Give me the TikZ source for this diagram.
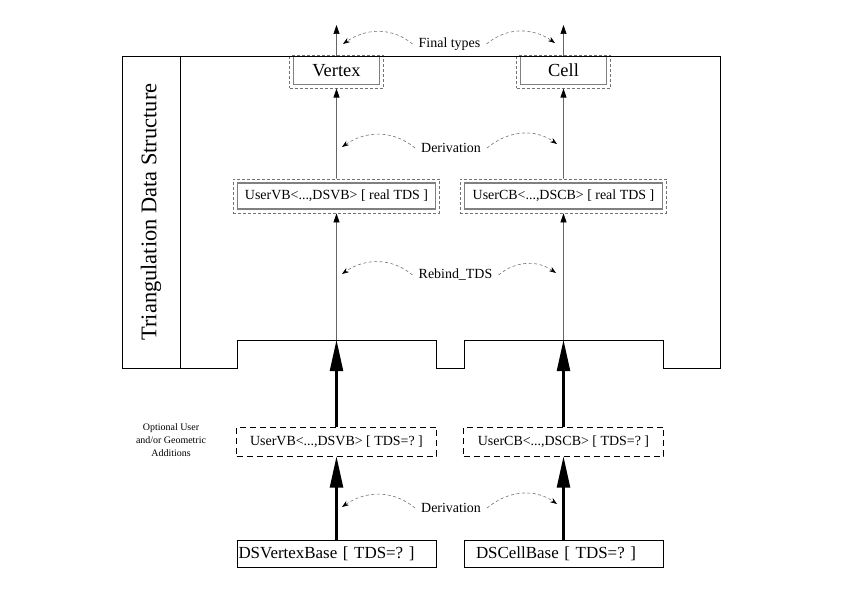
\documentclass[tikz,border=0pt]{standalone}
\usepackage{fontspec}
\setmainfont{Liberation Serif}
\usetikzlibrary{arrows.meta,fit}
\frenchspacing
\begin{document}
\begin{tikzpicture}[x=1bp,y=-1bp,
  outline/.style={line width=1bp},
  finalbox/.style={draw=black!50, line width=1.6bp, minimum width=86bp, minimum height=28bp,
    inner sep=0pt, font=\fontsize{18.5}{20}\selectfont},
  realbox/.style={draw=black!50, line width=1.2bp, minimum width=198bp, minimum height=26bp,
    inner sep=0pt, font=\fontsize{14}{16}\selectfont},
  halo/.style={draw=black!55, dash pattern=on 3bp off 2bp, line width=0.6bp, inner sep=0pt},
  userbox/.style={draw, dash pattern=on 6bp off 4bp, line width=1bp, minimum width=200bp,
    minimum height=29bp, inner sep=0pt, font=\fontsize{14}{16}\selectfont},
  basebox/.style={draw, line width=0.9bp, minimum height=27bp, inner ysep=0pt, align=left,
    font=\fontsize{17}{19}\selectfont},
  bigarrow/.style={line width=2.2bp, -{Triangle[length=31bp,width=13bp]}},
  slimarrow/.style={draw=black!60, line width=0.7bp, -{Triangle[length=9bp,width=6bp,color=black]}},
  bendarrow/.style={draw=black!55, dash pattern=on 3bp off 2.5bp, line width=0.6bp,
    -{Stealth[length=7bp,width=5bp,color=black]}},
  tag/.style={font=\fontsize{14}{16}\selectfont, inner ysep=0pt, inner xsep=6bp},
]
\useasboundingbox (0,0) rectangle (842,595);

% final types
\node[finalbox] (vtx) at (336.5,70.5) {Vertex};
\node[finalbox] (cell) at (563.5,70.5) {Cell};
\node[halo, fit={([shift={(-3,3)}]vtx.south west) ([xshift=3bp]vtx.north east)}] (vtxo) {};
\node[halo, fit={([shift={(-3,3)}]cell.south west) ([xshift=3bp]cell.north east)}] (cello) {};

% rebound user bases
\node[realbox] (vreal) at (336.5,196) {UserVB<...,DSVB> [ real TDS ]};
\node[realbox] (creal) at (563.5,196) {UserCB<...,DSCB> [ real TDS ]};
\node[halo, inner sep=3.5bp, fit=(vreal)] (vrealo) {};
\node[halo, inner sep=3.5bp, fit=(creal)] (crealo) {};

% data structure frame
\draw[outline] (122,57) -- (720,57) -- (720,368) -- (663,368) -- (663,340) -- (464,340)
  -- (464,368) -- (436,368) -- (436,340) -- (237,340) -- (237,368) -- (122,368) -- cycle;
\draw[outline] (180,57) -- (180,368);
\node[rotate=90, font=\fontsize{22.5}{24}\selectfont] (tds) at (151,212) {Triangulation Data Structure};

\coordinate (vjoin) at (336.5,340);
\coordinate (cjoin) at (563.5,340);
\coordinate (vtop) at (336.5,25);
\coordinate (ctop) at (563.5,25);

% user additions and base classes
\node[userbox] (vuser) at (336.5,441.5) {UserVB<...,DSVB> [ TDS=? ]};
\node[userbox] (cuser) at (563.5,441.5) {UserCB<...,DSCB> [ TDS=? ]};
\node[font=\fontsize{10}{13}\selectfont, align=center] (opt) at (171,440)
  {Optional User\\and/or Geometric\\Additions};

\node[basebox, inner xsep=1.5bp, text width=196bp] (vbase) at (336.5,553.5) {DSVertexBase [ TDS=? ]};
\node[basebox, inner xsep=12bp, text width=175bp] (cbase) at (563.5,553.5) {DSCellBase [ TDS=? ]};

% inheritance chain
\draw[bigarrow] (vbase) -- (vuser);
\draw[bigarrow] (cbase) -- (cuser);
\draw[bigarrow] (vuser) -- (vjoin);
\draw[bigarrow] (cuser) -- (cjoin);
\draw[slimarrow] (vjoin) -- (vrealo);
\draw[slimarrow] (cjoin) -- (crealo);
\draw[slimarrow] (vrealo) -- (vtxo);
\draw[slimarrow] (crealo) -- (cello);
\draw[slimarrow] (vtx.north) -- (vtop);
\draw[slimarrow] (cell.north) -- (ctop);

% step labels with curved pointers
\node[tag] (ft) at (449.5,44) {Final types};
\coordinate (ftl) at (343,44);
\coordinate (ftr) at (555,43);
\draw[bendarrow] (ft.west) to[out=140,in=35] (ftl);
\draw[bendarrow] (ft.east) to[out=40,in=145] (ftr);

\node[tag] (der1) at (451,148) {Derivation};
\coordinate (d1l) at (342,147);
\coordinate (d1r) at (557,144);
\draw[bendarrow] (der1.west) to[out=140,in=35] (d1l);
\draw[bendarrow] (der1.east) to[out=40,in=145] (d1r);

\node[tag] (reb) at (455.5,275) {Rebind\_TDS};
\coordinate (rl) at (342,274);
\coordinate (rr) at (556,273);
\draw[bendarrow] (reb.west) to[out=140,in=35] (rl);
\draw[bendarrow] (reb.east) to[out=40,in=145] (rr);

\node[tag] (der2) at (451,508) {Derivation};
\coordinate (d2l) at (342,507);
\coordinate (d2r) at (557,504);
\draw[bendarrow] (der2.west) to[out=140,in=35] (d2l);
\draw[bendarrow] (der2.east) to[out=40,in=145] (d2r);
\end{tikzpicture}
\end{document}
